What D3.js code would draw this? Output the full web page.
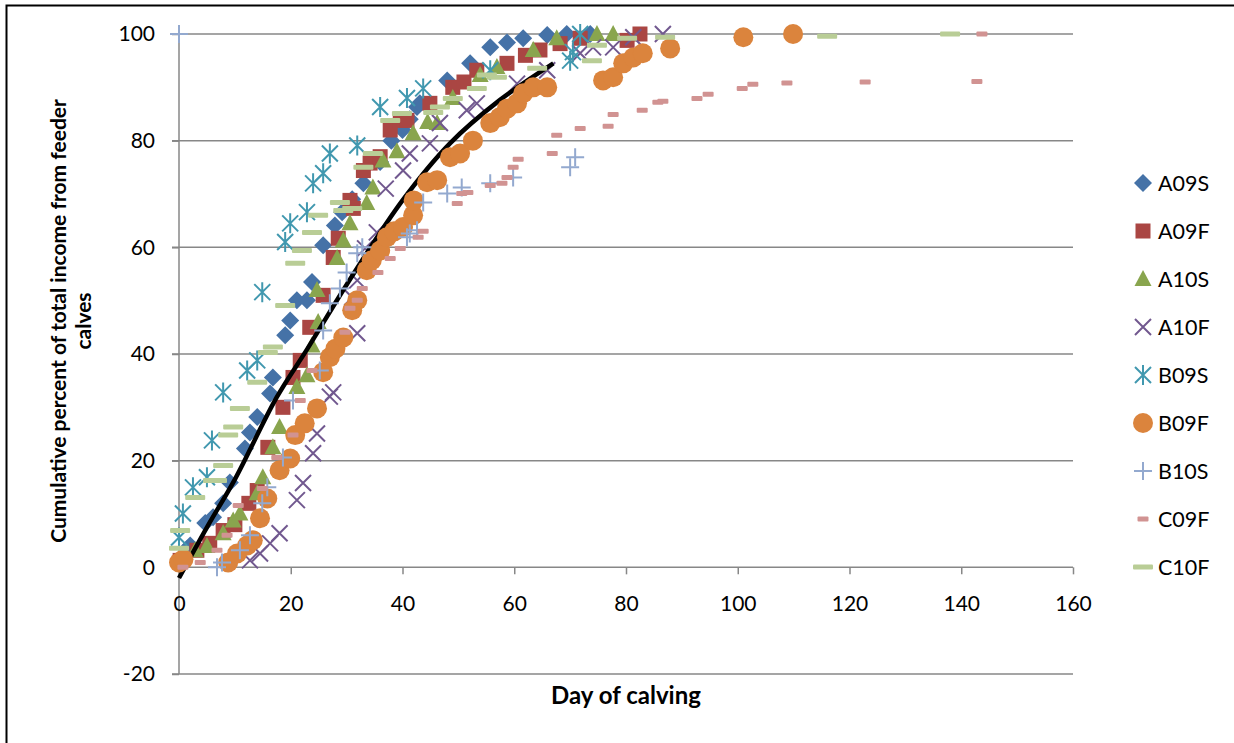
<!DOCTYPE html>
<html><head><meta charset="utf-8">
<script src="https://cdn.jsdelivr.net/npm/d3@7"></script>
<style>body{margin:0;background:#fff;} svg{display:block;font-family:Lato,"Open Sans",sans-serif;}</style>
</head><body><svg id="c" width="1234" height="743"></svg>
<script>
// ---- data (day of calving, cumulative percent) ----
const seriesNames = ["A09S","A09F","A10S","A10F","B09S","B09F","B10S","C09F","C10F"];
const A09S = [[1.4,3.4],[2,4.1],[4.7,8.3],[6.1,9.4],[7.9,12],[9.1,15.9],[11.8,22.3],[12.7,25.3],[14,28.2],[16.3,32.6],[16.8,35.6],[19,43.5],[19.9,46.3],[21.1,50.1],[22.9,50.1],[23.8,53.5],[25.8,60.4],[27.9,64.1],[29.2,66.6],[31,69],[33,72],[36,76],[38,80],[40,82],[41.3,84],[42.6,86.3],[43.1,87],[48,91.3],[52.1,94.5],[55.7,97.5],[58.7,98.4],[61.6,99.2],[65.9,99.8],[69.4,100],[73.6,100]];
const A09F = [[0.2,1.3],[3.2,3.2],[5.5,4.5],[7.9,6.9],[10,8],[12.5,12],[14,14.4],[15.9,22.5],[18.6,30],[20.4,35.6],[21.7,38.8],[23.4,45],[25.8,51],[27.6,58.1],[28.5,61.7],[30.6,68.8],[31.2,67.3],[33,74.4],[34.2,75.8],[36,77],[37.8,82],[39.6,83.8],[40.8,83.8],[44.9,87],[49,90],[51,91],[53.3,93.2],[58.7,94.5],[62,96],[64.6,97],[68.2,98.2],[71.8,99.2],[80.2,98.8],[82.5,100]];
const A10S = [[2.9,3.2],[5,4],[7.9,6.4],[9.7,8.8],[10.9,10.1],[14,13.9],[15,16.9],[16.8,22.5],[18,26.3],[21.1,33.8],[22.9,36],[23.8,41.6],[24.9,46],[24.7,52],[28.3,58],[29.4,61.3],[30.6,64.5],[33.6,68.3],[34.7,71.2],[36.5,76.3],[39,78],[41.9,81.4],[44.5,83.5],[46.2,83.3],[49,88],[53.9,92.3],[56.9,93.8],[63.4,97],[67.6,99.2],[74.8,100],[77.7,100]];
const A10F = [[12.7,1.3],[14.5,2.6],[16.3,4.5],[18,6.4],[21.1,12.6],[22.2,15.8],[24,21.4],[24.7,25.1],[27,32],[27.6,32.8],[31.9,43.9],[31,50.6],[31.9,53.8],[33.3,59.8],[35.4,62.8],[37,71],[40.1,74.4],[41.3,77.6],[44.9,79.5],[46.7,83.3],[51.5,85.7],[53.3,87],[60.5,90.7],[65.9,93.2],[71.8,96.4],[74.1,97.5],[77.7,97.5],[81.3,99.4],[86.6,100]];
const B09S = [[0,5.6],[0.7,10.1],[2.5,15],[5,16.9],[5.9,23.8],[7.9,32.8],[12.2,36.9],[14,38.8],[14.9,51.6],[19,61],[19.9,64.5],[22.9,66.6],[24,72],[25.8,73.9],[27,77.6],[31.9,79.1],[36,86.3],[40.8,88],[43.7,89.8],[55.7,93.2],[70,95],[70.5,96.6],[71.8,100]];
const B09F = [[0,0.9],[0.8,1.5],[8.8,0.9],[10.4,2.6],[12.2,4.1],[13.2,5.1],[14.5,9.2],[15.8,12.9],[18,18.2],[19.9,20.4],[20.8,24.8],[22.5,27],[24.7,29.8],[25.8,36.6],[27,39.4],[28,41],[29.4,43.1],[31,48.2],[31.9,50.1],[33.6,55.7],[34.5,57.6],[36,59.4],[37.2,61.9],[38.5,63],[40.1,63.8],[41.9,66],[42,68.8],[44.4,72.2],[46.2,72.6],[48.5,76.9],[50.3,77.6],[52.6,80],[55.7,83.3],[57.4,84.4],[58.7,86],[60.5,87],[61.6,88.9],[63.4,90],[65.9,90],[75.9,91.3],[77.7,91.9],[79.5,94.5],[81.3,95.6],[83,96.4],[87.9,97.3],[101,99.4],[109.9,100]];
const B10S = [[0,100],[6.8,0],[7.7,0.9],[10.9,3.2],[12.7,6],[14.9,12],[15.8,15],[18.6,20.6],[20.4,31.3],[25.2,36.9],[25.8,44.4],[27,49.5],[28.8,52.3],[30,55.3],[31.9,58.9],[32.8,60],[40.8,61.9],[41.3,62.6],[42.6,63.2],[43.7,68.4],[48,70.1],[50.6,71.2],[55.7,72],[59.8,73.1],[70,75],[70.9,76.9]];
const C09F = [[0.7,0],[3.8,0.9],[6.8,3.2],[8.6,6],[10.6,11.6],[14.9,14.8],[17.5,20.6],[20.4,24.8],[21.7,31.3],[23.8,36.9],[29.7,44.1],[30.6,48.6],[31.9,50.1],[32.8,52.3],[35.6,55.3],[37.8,57.9],[39.6,59.8],[42.8,61.9],[43.7,63],[49.8,68.2],[50.6,70.1],[51.7,70.3],[55.7,71.6],[57.8,72],[58.7,73.1],[59.8,75],[60.7,76.5],[66.8,77.6],[67.6,81],[71.8,82.3],[76.8,82.7],[77.7,84.9],[82.9,85.7],[85.7,87.2],[86.6,87.4],[92.7,87.9],[94.7,88.7],[100.8,89.8],[102.7,90.6],[108.8,90.8],[122.8,91],[142.8,91.1],[143.7,100]];
const C10F = [[0,3.6],[0.2,6.9],[2.9,13.1],[6.1,16.3],[6.8,16.3],[7.9,19.1],[8.8,24.8],[9.7,26.3],[10.9,29.8],[14,34.7],[15.9,40.3],[16.8,41.3],[19,49.1],[20.8,57],[22,59.4],[23.8,62.8],[24.9,66],[28.8,68.4],[29.4,66.9],[31,67.3],[33,75],[34.7,77.6],[37.8,83.8],[39.9,85.1],[45.5,85.3],[46.7,86.3],[49,87.9],[53.3,89.8],[55.1,92.3],[56.9,91.9],[64.1,93.6],[73.9,95],[74.8,97.9],[80.2,99.2],[87,99.4],[116,99.6],[138,100]];
// fitted trend curve
const trendDays = [0, 5, 10, 17.5, 23, 30, 40, 48.5, 57.4, 67];
const trendVals = [-2, 7.5, 16.5, 31.9, 41, 53, 68.8, 79.5, 87.6, 94.5];
const xTicks = [0,20,40,60,80,100,120,140,160];
const yTicks = [-20,0,20,40,60,80,100];

// ---- styling ----
const colors = {A09S:"#4572A7",A09F:"#AA4643",A10S:"#89A54E",A10F:"#71588F",B09S:"#4198AF",B09F:"#DB843D",B10S:"#93A9CF",C09F:"#D19392",C10F:"#B9CD96"};
const dataBy = {A09S,A09F,A10S,A10F,B09S,B09F,B10S,C09F,C10F};

const svg = d3.select("#c");
svg.append("rect").attr("x",6.5).attr("y",5.5).attr("width",1240).attr("height",760)
  .attr("fill","#fff").attr("stroke","#000").attr("stroke-width",2);

const x = d3.scaleLinear().domain([0,160]).range([179,1073]);
const y = d3.scaleLinear().domain([-20,100]).range([674,34]);
const grid = "#878787";

// gridlines
svg.append("g").selectAll("line").data(yTicks.filter(d=>d!==0)).join("line")
  .attr("x1",172).attr("x2",1073).attr("y1",d=>y(d)).attr("y2",d=>y(d))
  .attr("stroke",grid).attr("stroke-width",1.5);

// y axis
const yAxis = svg.append("g").attr("transform","translate(179,0)")
  .call(d3.axisLeft(y).tickValues(yTicks).tickSize(7).tickPadding(17).tickFormat(d=>String(d)));
// x axis at y=0
const xAxis = svg.append("g").attr("transform",`translate(0,${y(0)})`)
  .call(d3.axisBottom(x).tickValues(xTicks).tickSize(7).tickPadding(29).tickFormat(d=>String(d)));
[yAxis,xAxis].forEach(g=>{
  g.select(".domain").attr("stroke",grid).attr("stroke-width",1.5);
  g.selectAll(".tick line").attr("stroke",grid).attr("stroke-width",1.5);
  g.selectAll("text").attr("fill","#000").style("font-size","21px").style("font-family","Lato");
});
xAxis.selectAll(".tick text").attr("dy","0.35em");
yAxis.select(".domain").attr("d",`M-0,${y(100)}V${y(-20)}`);
xAxis.select(".domain").attr("d",`M${x(0)},0H${x(160)}`);

// marker shapes
function shape(g, name, col){
  switch(name){
    case "A09S": g.append("path").attr("d","M0,-9L9,0L0,9L-9,0Z").attr("fill",col); break;
    case "A09F": g.append("rect").attr("x",-7.5).attr("y",-7.5).attr("width",15).attr("height",15).attr("fill",col); break;
    case "A10S": g.append("path").attr("d","M0,-9L8.5,7L-8.5,7Z").attr("fill",col); break;
    case "A10F": g.append("path").attr("d","M-8,-8L8,8M-8,8L8,-8").attr("stroke",col).attr("stroke-width",2).attr("fill","none"); break;
    case "B09S": g.append("path").attr("d","M-8,-8L8,8M-8,8L8,-8M0,-10V10").attr("stroke",col).attr("stroke-width",2).attr("fill","none"); break;
    case "B09F": g.append("circle").attr("r",10).attr("fill",col); break;
    case "B10S": g.append("path").attr("d","M-9,0H9M0,-9V9").attr("stroke",col).attr("stroke-width",2).attr("fill","none"); break;
    case "C09F": g.append("rect").attr("x",-5.5).attr("y",-2.5).attr("width",11).attr("height",5).attr("rx",1).attr("fill",col); break;
    case "C10F": g.append("rect").attr("x",-10).attr("y",-2.5).attr("width",20).attr("height",5).attr("rx",1).attr("fill",col); break;
  }
}

const plot = svg.append("g");
const line = d3.line().x(d=>x(d[0])).y(d=>y(d[1])).curve(d3.curveCatmullRom);
seriesNames.forEach(name=>{
  const g = plot.append("g");
  dataBy[name].forEach(p=>{
    const m = g.append("g").attr("transform",`translate(${x(p[0])},${y(p[1])})`);
    shape(m,name,colors[name]);
  });
  if(name==="A10F"){
    plot.append("path").datum(d3.zip(trendDays,trendVals)).attr("d",line)
      .attr("fill","none").attr("stroke","#000").attr("stroke-width",4.5);
  }
});

// legend
const leg = svg.append("g");
seriesNames.forEach((name,i)=>{
  const cy = 183 + i*48;
  const m = leg.append("g").attr("transform",`translate(1143,${cy})`);
  shape(m,name,colors[name]);
  leg.append("text").attr("x",1158).attr("y",cy).attr("dy","0.36em")
    .style("font-size","21.5px").text(name);
});

// axis titles
svg.append("text").attr("x",626).attr("y",704).attr("text-anchor","middle")
  .style("font-size","24px").style("font-weight","bold").text("Day of calving");
svg.append("text").attr("transform","translate(66,321) rotate(-90)").attr("text-anchor","middle")
  .style("font-size","21px").style("font-weight","bold").text("Cumulative percent of total income from feeder");
svg.append("text").attr("transform","translate(91,321) rotate(-90)").attr("text-anchor","middle")
  .style("font-size","21px").style("font-weight","bold").text("calves");
</script></body></html>
